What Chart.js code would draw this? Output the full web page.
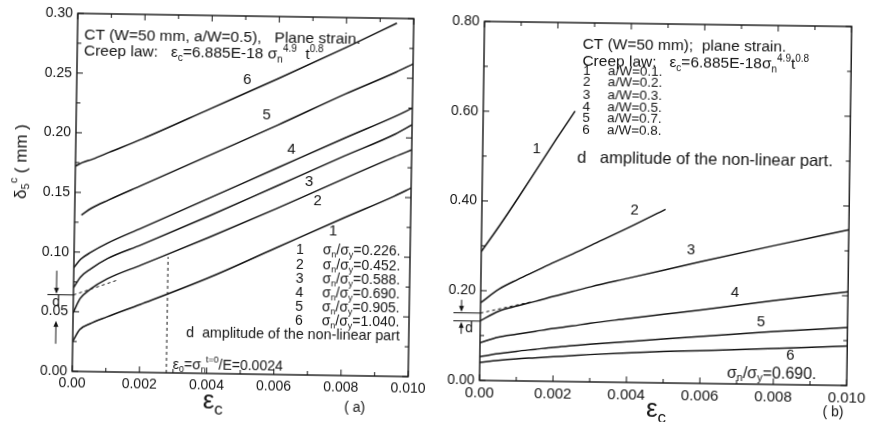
<!DOCTYPE html>
<html>
<head>
<meta charset="utf-8">
<script src="https://cdn.jsdelivr.net/npm/chart.js@4.4.0/dist/chart.umd.min.js"></script>
<style>
  html, body { margin: 0; padding: 0; background: #fff; }
  #wrap { position: relative; width: 872px; height: 422px; overflow: hidden; }
  canvas { position: absolute; top: 0; }
  /* the scanned figure is tilted a little clockwise */
  #chart-a { left: 0; transform-origin: 243px 195px; transform: rotate(0.9deg); }
  #chart-b { left: 440px; transform-origin: 228px 203px; transform: rotate(0.8deg); }
</style>
</head>
<body>
<div id="wrap">
  <canvas id="chart-a" width="440" height="422"></canvas>
  <canvas id="chart-b" width="432" height="422"></canvas>
</div>
<script>
// ---- data ----
// (a) CT W=50 mm, a/W=0.5, six load levels
const epsA = [0, 0.0002, 0.0005, 0.001, 0.002, 0.004, 0.006, 0.008, 0.0095, 0.010];
const curveA1 = [0.025, 0.035, 0.040, 0.046, 0.057, 0.080, 0.106, 0.132, 0.151, 0.158];
const curveA2 = [0.049, 0.061, 0.069, 0.078, 0.090, 0.114, 0.139, 0.165, 0.184, 0.190];
const curveA3 = [0.070, 0.079, 0.086, 0.095, 0.107, 0.132, 0.158, 0.184, 0.203, 0.211];
const curveA4 = [0.087, 0.094, 0.100, 0.108, 0.121, 0.147, 0.173, 0.199, 0.218, 0.225];
const curveA5 = [null, 0.131, 0.137, 0.144, 0.157, 0.183, 0.209, 0.236, 0.255, 0.262];
const curveA6 = [0.172, 0.175, 0.178, 0.184, 0.196, 0.222, 0.248, 0.275, 0.296, null];
const stressRatios = [0.226, 0.452, 0.588, 0.690, 0.905, 1.040];
const dashEpsA = [0, 0.0013];
const dashValA = [0.064, 0.077];
const eps0Line = [0.0028, 0.0028];
const eps0Val = [0, 0.097];
const dLevelsA = [0.064, 0.043];

// (b) CT W=50 mm, sigma_n/sigma_y=0.690, six crack depths
const epsB = [0, 0.0005, 0.001, 0.0015, 0.002, 0.0025, 0.003, 0.004, 0.005, 0.006, 0.008, 0.010];
const curveB1 = [0.287, 0.347, 0.410, 0.475, 0.540, 0.603, null, null, null, null, null, null];
const curveB2 = [0.173, 0.204, 0.226, 0.246, 0.266, 0.285, 0.305, 0.345, 0.387, null, null, null];
const curveB3 = [0.133, 0.155, 0.167, 0.178, 0.190, 0.201, 0.212, 0.232, 0.252, 0.272, 0.310, 0.347];
const curveB4 = [0.084, 0.097, 0.104, 0.111, 0.118, 0.124, 0.131, 0.142, 0.153, 0.164, 0.187, 0.209];
const curveB5 = [0.053, 0.060, 0.066, 0.071, 0.076, 0.080, 0.084, 0.091, 0.098, 0.105, 0.118, 0.129];
const curveB6 = [0.040, 0.045, 0.049, 0.052, 0.055, 0.058, 0.061, 0.066, 0.070, 0.073, 0.080, 0.088];
const crackRatios = [0.1, 0.2, 0.3, 0.5, 0.7, 0.8];
const dashEpsB = [0, 0.0014];
const dashValB = [0.150, 0.177];
const dLevelsB = [0.150, 0.132];

// tick labels
const xTickLabels = ["0.00", "0.002", "0.004", "0.006", "0.008", "0.010"];
const yTickLabelsA = ["0.00", "0.05", "0.10", "0.15", "0.20", "0.25", "0.30"];
const yTickLabelsB = ["0.00", "0.20", "0.40", "0.60", "0.80"];

const FONT = '"Liberation Sans", Arial, Helvetica, sans-serif';
const INK = "#141414";

function pts(xs, ys) {
  return xs.map((x, i) => ({ x: x, y: ys[i] }));
}

function curve(xs, ys) {
  return {
    data: pts(xs, ys),
    borderColor: INK,
    borderWidth: 1.5,
    pointRadius: 0,
    fill: false,
    cubicInterpolationMode: "monotone",
  };
}

function dashed(xs, ys) {
  return {
    data: pts(xs, ys),
    borderColor: INK,
    borderWidth: 1,
    borderDash: [3, 3],
    pointRadius: 0,
    fill: false,
  };
}

// text with sub/superscripts: parts = [[text, ""|"sub"|"sup"], ...]
function drawRich(ctx, x, y, parts, size, align) {
  const items = parts.map(([txt, kind]) => {
    const s = kind ? Math.round(size * 0.66) : size;
    ctx.font = s + "px " + FONT;
    return { txt, kind, s, w: ctx.measureText(txt).width };
  });
  const total = items.reduce((a, b) => a + b.w, 0);
  let cx = align === "center" ? x - total / 2 : align === "right" ? x - total : x;
  ctx.textAlign = "left";
  ctx.textBaseline = "middle";
  items.forEach((it) => {
    ctx.font = it.s + "px " + FONT;
    const dy = it.kind === "sub" ? size * 0.32 : it.kind === "sup" ? -size * 0.4 : 0;
    ctx.fillText(it.txt, cx, y + dy);
    cx += it.w;
  });
}

function arrow(ctx, x, from, tip) {
  const dir = tip > from ? 1 : -1;
  ctx.beginPath();
  ctx.moveTo(x, from);
  ctx.lineTo(x, tip - dir * 4);
  ctx.stroke();
  ctx.beginPath();
  ctx.moveTo(x, tip);
  ctx.lineTo(x - 2.5, tip - dir * 6);
  ctx.lineTo(x + 2.5, tip - dir * 6);
  ctx.closePath();
  ctx.fill();
}

const deco = {
  id: "deco",
  afterDraw(chart, args, o) {
    const { ctx, chartArea: a } = chart;
    const xs = chart.scales.x, ys = chart.scales.y;
    ctx.save();
    ctx.strokeStyle = INK;
    ctx.fillStyle = INK;
    ctx.lineWidth = 1.4;
    ctx.strokeRect(a.left, a.top, a.right - a.left, a.bottom - a.top);

    // inward ticks on all four sides
    ctx.lineWidth = 1;
    ctx.beginPath();
    xs.ticks.forEach((t) => {
      const p = xs.getPixelForValue(t.value);
      const l = t.label ? 6 : 4;
      ctx.moveTo(p, a.bottom); ctx.lineTo(p, a.bottom - l);
      ctx.moveTo(p, a.top); ctx.lineTo(p, a.top + l);
    });
    ys.ticks.forEach((t) => {
      const p = ys.getPixelForValue(t.value);
      const l = t.label ? 6 : 4;
      ctx.moveTo(a.left, p); ctx.lineTo(a.left + l, p);
      ctx.moveTo(a.right, p); ctx.lineTo(a.right - l, p);
    });
    ctx.stroke();

    // notes anchored in data units
    o.notes.forEach((n) =>
      drawRich(ctx, xs.getPixelForValue(n.x), ys.getPixelForValue(n.y), n.parts, n.size, n.align || "left")
    );

    // "d" amplitude marker left of the axis
    const m = o.dMark;
    const yh = ys.getPixelForValue(m.levels[0]);
    const yl = ys.getPixelForValue(m.levels[1]);
    ctx.beginPath();
    ctx.moveTo(a.left - m.len, yh); ctx.lineTo(a.left, yh);
    if (m.lower) { ctx.moveTo(a.left - m.len, yl); ctx.lineTo(a.left, yl); }
    ctx.stroke();
    arrow(ctx, a.left - m.ax, yh - m.alen, yh - 1);
    arrow(ctx, a.left - m.ax, yl + m.alen, yl + 1);
    drawRich(ctx, a.left - m.lx, yh + m.ldy, [["d", ""]], m.size, "center");

    // axis titles, canvas coordinates
    o.titles.forEach((t) => {
      ctx.save();
      ctx.translate(t.x, t.y);
      if (t.rot) ctx.rotate(t.rot);
      drawRich(ctx, 0, 0, t.parts, t.size, "center");
      ctx.restore();
    });
    ctx.restore();
  },
};

function makeChart(id, cfg) {
  return new Chart(document.getElementById(id), {
    type: "line",
    data: { datasets: cfg.datasets },
    options: {
      responsive: false,
      animation: false,
      events: [],
      layout: { padding: cfg.padding },
      plugins: {
        legend: { display: false },
        tooltip: { enabled: false },
        deco: cfg.deco,
      },
      scales: {
        x: {
          type: "linear",
          min: 0,
          max: 0.010,
          grid: { display: false, drawTicks: false },
          border: { display: false },
          ticks: {
            stepSize: 0.001,
            autoSkip: false,
            maxRotation: 0,
            color: INK,
            padding: cfg.xPad,
            font: { family: FONT, size: cfg.xFont },
            callback: (v) => {
              const i = Math.round(v * 1000);
              return i % 2 === 0 ? xTickLabels[i / 2] : "";
            },
          },
          afterFit: (s) => { s.height = cfg.xHeight; },
        },
        y: {
          min: 0,
          max: cfg.yMax,
          grid: { display: false, drawTicks: false },
          border: { display: false },
          ticks: {
            stepSize: cfg.yStep,
            autoSkip: false,
            color: INK,
            padding: 5,
            font: { family: FONT, size: 14 },
            callback: (v) => {
              const i = Math.round(v / cfg.yStep);
              return i % 2 === 0 ? cfg.yLabels[i / 2] : "";
            },
          },
          afterFit: (s) => { s.width = cfg.yWidth; },
        },
      },
    },
    plugins: [deco],
  });
}

const t = (s) => [[s, ""]];
const sig = (r) => [["σ", ""], ["n", "sub"], ["/σ", ""], ["y", "sub"], ["=" + r + ".", ""]];

// ---- panel (a) ----
const notesA = [
  { x: 0.0002, y: 0.2815, size: 15.5, parts: t("CT (W=50 mm, a/W=0.5),   Plane strain.") },
  { x: 0.0002, y: 0.268, size: 15.5, parts: [["Creep law:   ", ""], ["ε", ""], ["c", "sub"], ["=6.885E-18 ", ""], ["σ", ""], ["n", "sub"], ["4.9", "sup"], ["  t", ""], ["0.8", "sup"]] },
  { x: 0.00507, y: 0.2465, size: 15, align: "center", parts: t("6") },
  { x: 0.00567, y: 0.217, size: 15, align: "center", parts: t("5") },
  { x: 0.00642, y: 0.189, size: 15, align: "center", parts: t("4") },
  { x: 0.00696, y: 0.162, size: 15, align: "center", parts: t("3") },
  { x: 0.00722, y: 0.146, size: 15, align: "center", parts: t("2") },
  { x: 0.0077, y: 0.121, size: 15, align: "center", parts: t("1") },
  { x: 0.00337, y: 0.0334, size: 14.3, parts: t("d  amplitude of the non-linear part") },
  { x: 0.00299, y: 0.0067, size: 14, parts: [["ε", ""], ["0", "sub"], ["=σ", ""], ["n", "sub"], ["t=0", "sup"], ["/E=0.0024", ""]] },
];
const rowYA = [0.1044, 0.0919, 0.0802, 0.0685, 0.0568, 0.0451];
stressRatios.forEach((r, i) => {
  notesA.push({ x: 0.00672, y: rowYA[i], size: 14, align: "center", parts: t(String(i + 1)) });
  notesA.push({ x: 0.0074, y: rowYA[i], size: 14, parts: sig(r.toFixed(3)) });
});

makeChart("chart-a", {
  datasets: [
    curve(epsA, curveA1), curve(epsA, curveA2), curve(epsA, curveA3),
    curve(epsA, curveA4), curve(epsA, curveA5), curve(epsA, curveA6),
    dashed(dashEpsA, dashValA), dashed(eps0Line, eps0Val),
  ],
  padding: { top: 16, right: 29, left: 0, bottom: 0 },
  xHeight: 48, xPad: 4, xFont: 14,
  yWidth: 75, yMax: 0.30, yStep: 0.025, yLabels: yTickLabelsA,
  deco: {
    notes: notesA,
    dMark: { levels: dLevelsA, len: 26, lower: false, ax: 17, alen: 24, lx: 17, ldy: 8, size: 14 },
    titles: [
      { x: 216, y: 402, size: 26, parts: [["ε", ""], ["c", "sub"]] },
      { x: 358, y: 406, size: 14, parts: t("( a)") },
      { x: 21, y: 165, size: 17, rot: -Math.PI / 2, parts: [["δ", ""], ["5", "sub"], ["c", "sup"], [" ( mm )", ""]] },
    ],
  },
});

// ---- panel (b) ----
const notesB = [
  { x: 0.00268, y: 0.751, size: 15.5, parts: t("CT (W=50 mm);  plane strain.") },
  { x: 0.00268, y: 0.713, size: 15.5, parts: [["Creep law:   ", ""], ["ε", ""], ["c", "sub"], ["=6.885E-18σ", ""], ["n", "sub"], ["4.9", "sup"], ["t", ""], ["0.8", "sup"]] },
  { x: 0.00257, y: 0.498, size: 16.5, parts: t("d   amplitude of the non-linear part.") },
  { x: 0.00147, y: 0.518, size: 15, align: "center", parts: t("1") },
  { x: 0.00416, y: 0.384, size: 15, align: "center", parts: t("2") },
  { x: 0.00571, y: 0.296, size: 15, align: "center", parts: t("3") },
  { x: 0.00692, y: 0.202, size: 15, align: "center", parts: t("4") },
  { x: 0.00764, y: 0.138, size: 15, align: "center", parts: t("5") },
  { x: 0.00845, y: 0.064, size: 15, align: "center", parts: t("6") },
  { x: 0.00673, y: 0.024, size: 16, parts: sig("0.690") },
];
const rowYB = [0.693, 0.667, 0.640, 0.613, 0.587, 0.562];
crackRatios.forEach((r, i) => {
  notesB.push({ x: 0.0027, y: rowYB[i], size: 13.5, parts: t(String(i + 1)) });
  notesB.push({ x: 0.00338, y: rowYB[i], size: 13.5, parts: t("a/W=" + r + ".") });
});

makeChart("chart-b", {
  datasets: [
    curve(epsB, curveB1), curve(epsB, curveB2), curve(epsB, curveB3),
    curve(epsB, curveB4), curve(epsB, curveB5), curve(epsB, curveB6),
    dashed(dashEpsB, dashValB),
  ],
  padding: { top: 24, right: 16, left: 0, bottom: 0 },
  xHeight: 39, xPad: 4, xFont: 15,
  yWidth: 42, yMax: 0.80, yStep: 0.1, yLabels: yTickLabelsB,
  deco: {
    notes: notesB,
    dMark: { levels: dLevelsB, len: 27, lower: true, ax: 19, alen: 13, lx: 11, ldy: 15, size: 14 },
    titles: [
      { x: 219, y: 410, size: 26, parts: [["ε", ""], ["c", "sub"]] },
      { x: 396, y: 410, size: 14, parts: t("( b)") },
    ],
  },
});
</script>
</body>
</html>
